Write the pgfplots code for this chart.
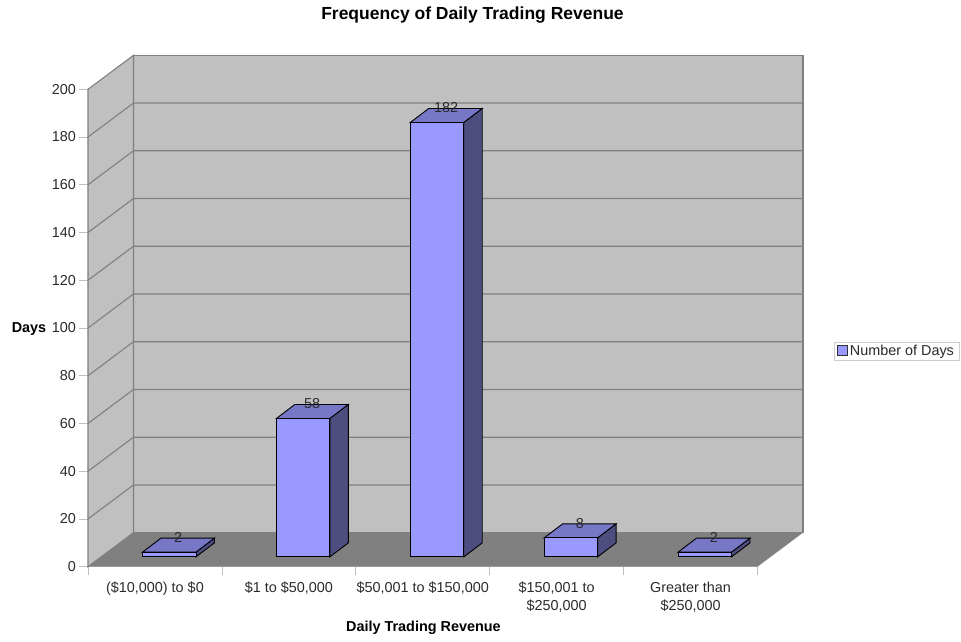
\documentclass[border=0pt]{standalone}
\usepackage{fontspec}
\setmainfont{Liberation Sans}
\usepackage{pgfplots}
\pgfplotsset{compat=1.18}
\definecolor{barfront}{HTML}{9999FF}
\definecolor{barside}{HTML}{4D4D80}
\definecolor{bartop}{HTML}{7777C8}
\definecolor{wall}{HTML}{C0C0C0}
\definecolor{floorc}{HTML}{808080}
\definecolor{txt}{HTML}{2A2A2A}
\newcommand{\grid}[1]{\addplot[forget plot,draw=floorc,line width=1.1pt] coordinates {(-0.5,#1) (-0.1604,{#1+14.24}) (4.8396,{#1+14.24})};}
\begin{document}
\begin{tikzpicture}
\path[use as bounding box] (-88pt,-75.3pt) rectangle (873pt,566.7pt);
\begin{axis}[
  at={(0pt,0pt)}, anchor=south west, scale only axis,
  width=669.5pt, height=477.4pt,
  xmin=-0.5, xmax=4.5, ymin=0, ymax=200,
  clip=false,
  axis lines=left, axis line style={-,draw=floorc!40},
  tick align=outside, major tick length=8.5pt,
  tick style={draw=floorc!50,line width=0.7pt},
  xtick={-0.5,0.5,1.5,2.5,3.5,4.5}, x tick label as interval,
  xticklabels={{(\$10,000) to \$0},{\$1 to \$50,000},{\$50,001 to \$150,000},{\$150,001 to\\\$250,000},{Greater than\\\$250,000}},
  x tick label style={align=center,text=txt,font=\fontsize{14.4}{18}\selectfont,yshift=-3pt},
  ytick={0,20,...,200},
  y tick label style={text=txt,font=\fontsize{14.4}{16}\selectfont},
  /pgf/number format/assume math mode=true,
  every axis title shift=0pt,
  title={Frequency of Daily Trading Revenue},
  title style={at={(0.5743,1.1556)},anchor=center,font=\fontsize{17.5}{20}\selectfont\bfseries,text=black},
  xlabel={Daily Trading Revenue},
  xlabel style={at={(0.501,-0.1247)},anchor=center,yshift=-2pt,font=\fontsize{14.4}{16}\selectfont\bfseries,text=black},
  ylabel={Days},
  ylabel style={at={(-0.0881,0.4975)},anchor=center,rotate=-90,font=\fontsize{14.4}{16}\selectfont\bfseries,text=black},
  legend style={at={(1.2076,0.4508)},anchor=center,draw=floorc!40,font=\fontsize{14.4}{16}\selectfont,text=txt,inner xsep=3pt,inner ysep=1pt},
  legend image code/.code={\draw[fill=barfront,draw=black!80,line width=0.9pt] (0pt,-14pt) rectangle (10pt,-4pt);},
]
% walls and floor
\addplot[forget plot,fill=wall,draw=floorc,line width=1.1pt] coordinates {(-0.1604,14.24) (4.8396,14.24) (4.8396,214.24) (-0.1604,214.24) (-0.1604,14.24)} -- cycle;
\addplot[forget plot,fill=wall,draw=floorc,line width=1.1pt] coordinates {(-0.5,0) (-0.1604,14.24) (-0.1604,214.24) (-0.5,200) (-0.5,0)} -- cycle;
\addplot[forget plot,fill=floorc,draw=none] coordinates {(-0.5,0) (4.5,0) (4.8396,14.24) (-0.1604,14.24) (-0.5,0)} -- cycle;
\grid{20}\grid{40}\grid{60}\grid{80}\grid{100}\grid{120}\grid{140}\grid{160}\grid{180}
% bar side faces
\addplot[forget plot,fill=barside,draw=black,line width=0.9pt] coordinates {(0.306,4.1) (0.444,9.97) (0.444,11.97) (0.306,6.1) (0.306,4.1)} -- cycle;
\addplot[forget plot,fill=barside,draw=black,line width=0.9pt] coordinates {(1.306,4.1) (1.444,9.97) (1.444,67.97) (1.306,62.1) (1.306,4.1)} -- cycle;
\addplot[forget plot,fill=barside,draw=black,line width=0.9pt] coordinates {(2.306,4.1) (2.444,9.97) (2.444,191.97) (2.306,186.1) (2.306,4.1)} -- cycle;
\addplot[forget plot,fill=barside,draw=black,line width=0.9pt] coordinates {(3.306,4.1) (3.444,9.97) (3.444,17.97) (3.306,12.1) (3.306,4.1)} -- cycle;
\addplot[forget plot,fill=barside,draw=black,line width=0.9pt] coordinates {(4.306,4.1) (4.444,9.97) (4.444,11.97) (4.306,6.1) (4.306,4.1)} -- cycle;
% bar top faces
\addplot[forget plot,fill=bartop,draw=black,line width=0.9pt] coordinates {(-0.093,6.1) (0.045,11.97) (0.444,11.97) (0.306,6.1) (-0.093,6.1)} -- cycle;
\addplot[forget plot,fill=bartop,draw=black,line width=0.9pt] coordinates {(0.907,62.1) (1.045,67.97) (1.444,67.97) (1.306,62.1) (0.907,62.1)} -- cycle;
\addplot[forget plot,fill=bartop,draw=black,line width=0.9pt] coordinates {(1.907,186.1) (2.045,191.97) (2.444,191.97) (2.306,186.1) (1.907,186.1)} -- cycle;
\addplot[forget plot,fill=bartop,draw=black,line width=0.9pt] coordinates {(2.907,12.1) (3.045,17.97) (3.444,17.97) (3.306,12.1) (2.907,12.1)} -- cycle;
\addplot[forget plot,fill=bartop,draw=black,line width=0.9pt] coordinates {(3.907,6.1) (4.045,11.97) (4.444,11.97) (4.306,6.1) (3.907,6.1)} -- cycle;
% bar front faces: the values
\addplot[ybar,bar width=53.5pt,bar shift=14.27pt,yshift=9.8pt,fill=barfront,draw=black,line width=0.9pt,
  nodes near coords,
  every node near coord/.append style={anchor=center,xshift=23.3pt,yshift=14.5pt,text=txt,font=\fontsize{14.4}{16}\selectfont,/pgf/number format/assume math mode=true}]
  coordinates {(0,2) (1,58) (2,182) (3,8) (4,2)};
\addlegendentry{Number of Days}
\end{axis}
\end{tikzpicture}
\end{document}
